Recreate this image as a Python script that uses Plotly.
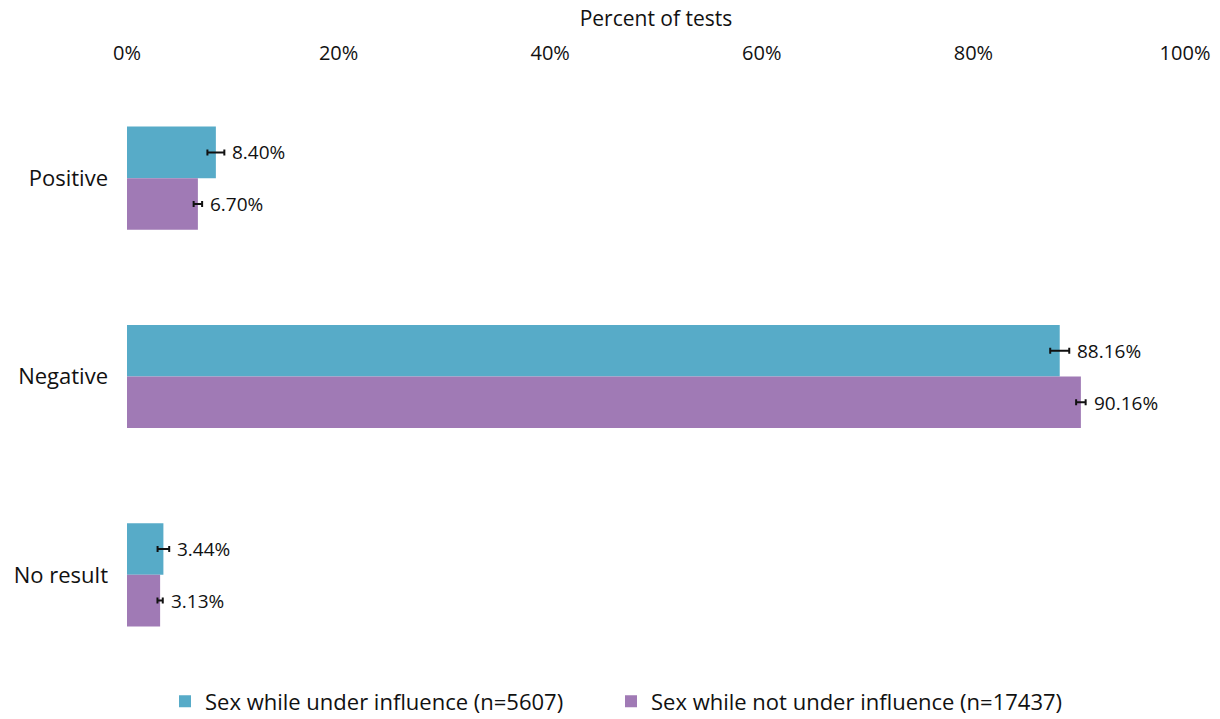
import plotly.graph_objects as go

categories = ["Positive", "Negative", "No result"]
under_vals = [8.40, 88.16, 3.44]
under_err = [0.8, 0.9, 0.55]
not_under_vals = [6.70, 90.16, 3.13]
not_under_err = [0.4, 0.45, 0.25]
series_names = ["Sex while under influence (n=5607)", "Sex while not under influence (n=17437)"]
tick_vals = [0, 20, 40, 60, 80, 100]
tick_text = ["0%", "20%", "40%", "60%", "80%", "100%"]

FONT = "Open Sans, Lato, sans-serif"
colors = ["#57ABC8", "#A07AB5"]

fig = go.Figure()
for name, vals, errs, col, lg in [
    (series_names[0], under_vals, under_err, colors[0], "legend"),
    (series_names[1], not_under_vals, not_under_err, colors[1], "legend2"),
]:
    fig.add_trace(go.Bar(
        y=categories, x=vals, name=name, orientation="h", legend=lg,
        marker=dict(color=col, line=dict(width=0)),
        error_x=dict(type="data", array=errs, color="#111111", thickness=2, width=3),
    ))

# data labels next to each bar's error bar
for k, (vals, errs, ysh) in enumerate([(under_vals, under_err, 26), (not_under_vals, not_under_err, -26)]):
    for c, v, e in zip(categories, vals, errs):
        fig.add_annotation(
            x=v + e, y=c, yshift=ysh, text=f"{v:.2f}%", showarrow=False,
            xanchor="left", xshift=6, font=dict(family=FONT, size=19, color="#111"),
            xref="x", yref="y",
        )

legend_common = dict(orientation="h", xanchor="left", y=-0.046, yanchor="middle",
                     font=dict(size=22), itemwidth=30)

fig.update_layout(
    width=1220, height=719,
    paper_bgcolor="white", plot_bgcolor="white",
    margin=dict(l=127, r=35, t=79, b=45, autoexpand=False),
    barmode="group", bargap=0.48, bargroupgap=0,
    font=dict(family=FONT, size=20, color="#111"),
    xaxis=dict(
        side="top", range=[0, 100], tickvals=tick_vals, ticktext=tick_text,
        showgrid=False, zeroline=False, showline=False, ticks="",
        title=dict(text="Percent of tests", font=dict(size=21), standoff=6),
        tickfont=dict(size=20), automargin=False, ticklabelstandoff=14,
    ),
    yaxis=dict(
        autorange="reversed", showgrid=False, showline=False, ticks="",
        tickfont=dict(size=22), automargin=False, ticklabelstandoff=18,
    ),
    legend=dict(x=(165 - 127) / 1058, **legend_common),
    legend2=dict(x=(611 - 127) / 1058, **legend_common),
    showlegend=True,
)

fig.write_html("out.html", config={"displayModeBar": False},
               post_script="document.body.style.margin='0';")
